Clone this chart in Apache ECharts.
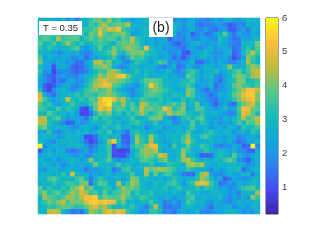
<!DOCTYPE html>
<html><head><meta charset="utf-8">
<script src="https://cdn.jsdelivr.net/npm/echarts@6/dist/echarts.min.js"></script>
<style>html,body{margin:0;padding:0;background:#fff}#c{width:321px;height:241px}</style>
</head><body><div id="c"></div>
<script>
// values, in tenths of a colour unit, top row first
const rows = [
[28,24,30,26,22,30,18,25,14,26,28,34,38,40,34,42,32,36,28,26,22,24,26,30,28,24,22,26,18,16,22,18,24,26,20,18,16,20,24,18,26,28,22,20,24,30,26,28],
[30,32,30,30,28,30,30,30,30,30,26,36,32,40,46,36,38,40,38,46,30,28,26,24,30,30,30,30,30,30,24,20,28,24,16,14,16,16,20,22,16,12,14,20,16,28,24,26],
[34,34,34,34,34,34,34,34,34,34,34,34,38,48,40,48,46,52,36,32,26,22,28,30,30,30,30,30,30,30,22,18,22,28,20,18,22,16,14,20,22,12,12,18,22,16,28,24],
[36,36,36,36,36,36,36,36,36,36,30,40,36,50,38,34,38,40,42,34,22,24,26,30,30,30,30,30,30,30,16,20,24,12,18,22,14,16,24,28,38,22,14,24,20,18,26,22],
[34,38,36,30,46,34,36,38,38,28,34,38,34,40,36,38,36,30,38,36,46,34,30,26,26,22,24,28,12,20,18,16,24,18,18,24,22,20,18,32,26,18,14,16,24,22,26,28],
[38,30,32,36,28,34,44,34,30,34,28,30,34,36,34,30,28,36,40,38,42,36,28,24,26,22,26,24,18,14,12,16,20,26,30,22,20,24,22,28,24,20,16,14,30,28,32,40],
[34,28,34,30,26,28,30,34,38,24,20,26,30,38,28,32,40,34,38,44,40,38,34,52,32,26,28,18,22,20,16,14,22,24,20,18,24,28,20,24,26,22,14,16,26,34,28,38],
[30,26,28,22,18,22,26,24,30,20,16,18,26,30,32,36,44,32,28,36,42,40,42,34,30,28,24,26,20,18,24,12,10,22,24,26,30,22,20,18,24,28,12,16,30,36,46,34],
[36,22,28,24,22,26,24,18,20,22,14,20,22,26,28,30,36,24,18,30,38,34,36,30,26,28,22,24,22,14,18,10,16,24,22,28,26,24,20,22,26,20,10,14,22,42,36,30],
[40,26,24,20,26,24,20,22,14,14,22,26,44,46,36,40,28,30,22,16,26,34,30,28,22,30,36,34,18,22,16,20,22,28,14,14,18,24,20,26,22,18,16,22,28,44,34,28],
[30,24,22,10,24,28,22,14,12,13,20,28,38,40,44,38,26,20,18,22,30,28,24,26,28,24,18,16,22,28,14,16,26,22,18,24,28,26,22,24,30,42,28,24,28,36,44,40],
[34,20,22,8,16,20,18,14,12,14,16,24,30,36,34,42,44,38,30,24,28,34,26,30,26,22,24,28,30,20,16,22,32,36,30,22,26,28,32,24,26,30,34,38,30,36,44,46],
[28,18,14,12,18,22,20,18,16,22,26,30,34,44,38,46,46,52,54,40,32,28,26,32,24,28,26,30,24,28,22,18,38,34,28,24,26,30,20,16,24,28,36,42,38,34,44,46],
[24,20,14,10,16,14,22,26,20,18,28,34,40,46,50,44,44,40,38,34,30,26,32,38,40,38,36,28,26,24,26,30,32,36,26,20,24,28,18,14,22,30,32,42,40,30,32,34],
[22,12,8,12,18,24,28,20,16,22,30,36,44,48,52,50,38,36,30,24,22,18,28,36,54,42,36,30,28,24,28,32,36,30,20,24,22,30,14,18,24,28,38,42,36,34,32,36],
[32,14,8,18,26,30,24,18,22,28,34,38,42,36,38,44,34,28,24,20,16,24,30,34,40,42,38,34,30,28,24,26,40,38,24,18,14,22,16,20,22,28,34,40,44,52,52,46],
[46,24,18,14,22,28,26,30,34,30,36,34,32,38,40,42,38,34,30,26,18,22,28,36,38,36,34,30,26,32,30,28,42,36,26,22,18,14,20,26,24,30,38,42,50,54,54,40],
[48,36,28,22,26,30,48,32,28,34,30,38,36,50,56,56,52,40,46,34,26,30,36,34,32,30,34,28,30,24,26,34,28,32,24,26,20,16,14,22,24,28,34,40,46,50,52,42],
[38,30,34,24,20,26,30,36,30,28,26,34,40,50,54,58,38,34,44,32,36,28,46,42,34,36,32,30,34,38,32,40,26,30,38,24,28,18,12,20,28,16,14,34,38,44,48,36],
[36,34,28,30,36,28,34,30,26,10,8,22,38,52,46,50,34,38,36,30,38,34,46,38,40,36,38,52,44,32,36,42,24,28,38,36,26,24,20,24,30,22,24,36,52,50,40,38],
[30,28,38,32,26,30,24,30,22,8,9,14,30,40,36,42,30,34,28,34,30,36,44,36,30,34,40,36,46,38,42,38,32,30,26,34,28,26,30,24,20,16,18,34,50,48,38,30],
[44,46,30,34,38,28,20,24,24,20,14,26,36,30,34,32,28,24,30,30,36,28,26,30,38,40,42,26,20,16,22,32,34,30,36,38,26,24,22,20,26,24,30,34,46,36,40,46],
[46,44,32,28,24,18,12,13,24,18,22,28,30,26,30,34,26,30,22,26,32,36,30,24,28,34,22,26,30,18,20,28,26,38,28,34,30,22,26,18,24,22,28,36,30,38,36,44],
[36,40,30,26,28,26,24,20,18,26,28,24,20,28,34,26,30,34,26,30,24,28,26,18,24,28,30,20,24,26,28,24,30,36,26,24,28,20,24,26,22,30,26,20,34,30,32,36],
[24,22,34,22,16,24,28,24,30,26,30,22,26,32,28,36,22,26,20,14,30,34,28,24,30,26,22,28,26,24,30,26,36,28,24,26,30,34,28,24,30,26,20,24,28,22,34,30],
[26,30,26,28,20,22,30,26,28,24,10,10,14,26,30,28,30,28,12,12,26,42,32,30,44,32,26,24,28,30,26,34,42,30,26,34,36,30,26,24,22,28,24,16,20,24,26,22],
[30,24,22,18,26,30,26,28,26,22,14,8,12,22,28,42,54,30,14,12,24,44,34,30,46,30,28,22,24,30,28,36,46,34,28,24,26,30,24,26,22,28,20,14,16,24,22,28],
[60,20,24,26,24,22,28,26,30,28,20,14,18,26,30,36,10,26,16,14,32,38,36,42,50,50,30,26,22,36,26,30,38,30,28,36,32,26,18,16,20,18,26,22,12,14,60,18],
[12,22,28,20,28,26,16,14,16,20,24,16,22,28,26,34,10,8,8,10,26,30,40,44,42,46,30,22,28,26,30,42,34,26,24,28,34,28,24,30,26,22,28,20,18,14,12,26],
[22,26,30,24,26,28,24,22,18,24,18,20,28,30,26,36,9,9,9,16,24,34,38,42,40,36,48,46,26,24,30,44,30,28,22,12,12,14,26,32,28,24,38,26,22,18,24,28],
[28,24,22,26,18,24,26,30,28,22,26,42,26,30,32,38,24,18,22,24,30,28,36,38,34,30,36,42,30,28,32,42,46,36,30,24,28,24,30,28,34,40,34,20,16,12,22,26],
[24,30,28,22,26,18,22,28,24,26,24,28,40,30,28,26,30,36,28,32,26,24,30,28,34,28,26,28,34,32,30,26,42,46,40,46,30,26,24,30,26,28,30,26,24,18,22,26],
[22,20,26,30,24,22,28,26,24,22,14,22,20,24,26,30,14,20,34,36,28,26,30,46,38,42,44,42,38,34,26,28,34,30,28,26,24,18,26,22,24,30,28,32,14,20,26,30],
[26,28,30,24,28,34,26,48,30,26,28,20,24,22,28,26,22,28,26,30,36,24,28,44,26,38,28,34,36,30,24,16,14,13,30,42,46,24,20,18,22,26,24,22,28,30,16,24],
[30,26,36,38,32,28,30,28,34,38,30,16,28,34,30,24,26,30,22,28,42,38,26,30,28,24,30,22,26,34,28,24,28,26,32,44,38,30,22,26,12,16,24,22,18,20,26,30],
[24,30,28,34,26,30,36,34,32,40,42,14,30,38,36,28,24,46,28,34,44,40,30,26,24,32,26,30,34,36,30,20,30,34,48,50,48,36,26,14,16,22,18,28,24,26,30,26],
[38,26,34,30,28,34,32,38,42,50,36,40,28,30,34,32,26,34,42,38,40,36,30,28,26,30,28,32,26,30,34,28,26,30,34,28,34,32,26,22,24,18,20,28,34,36,38,30],
[36,42,32,36,38,30,36,44,40,48,44,34,36,28,38,30,34,36,42,40,30,34,28,30,34,26,30,28,24,30,26,22,36,28,30,24,22,28,30,26,24,20,22,16,28,30,26,44],
[26,44,38,36,32,36,44,42,38,46,52,52,54,34,40,38,36,38,44,36,32,30,36,34,30,28,22,26,28,20,24,26,34,36,24,26,28,24,26,30,22,18,24,20,26,22,42,34],
[30,34,40,36,42,46,36,42,40,40,50,54,54,52,54,52,50,34,40,26,28,24,30,28,36,30,24,16,18,24,18,24,36,32,28,30,22,20,26,24,20,16,22,28,24,26,24,30],
[28,30,34,32,36,40,38,36,32,34,38,46,50,42,44,36,30,28,32,30,34,26,22,16,30,46,28,14,14,18,16,26,30,28,24,26,20,14,24,22,24,26,18,22,24,20,28,26],
[30,26,46,48,44,30,22,14,16,14,28,44,40,36,46,50,44,50,48,34,30,24,18,20,34,34,30,16,18,14,24,26,22,24,30,18,16,20,22,24,26,28,30,24,18,22,20,28]
];
const colorTicks = [1,2,3,4,5,6];
const valueMin = 0.2, valueMax = 6;
const parula = ['#3e26a8','#474af4','#2a84f0','#10a8dc','#12bdb8','#58c888','#bebc3c','#fdbe3c','#f9fb15'];

const cols = rows[0].length, nRows = rows.length;
const data = [];
rows.forEach((r,y)=>r.forEach((v,x)=>data.push([x, nRows-1-y, v/10])));
const range = n => Array.from({length:n},(_,i)=>i);
const font = '"Liberation Sans", Arial, sans-serif';
const chart = echarts.init(document.getElementById('c'), null, {renderer:'canvas'});
chart.setOption({
  animation:false,
  backgroundColor:'#fff',
  grid:[
    {left:38, top:18, width:222, height:196, show:false},
    {left:266, top:18, width:12, height:196, show:true, borderColor:'#404040', borderWidth:1, backgroundColor:'transparent'}
  ],
  xAxis:[
    {type:'category', data:range(cols), show:false, gridIndex:0},
    {type:'category', data:['c'], show:false, gridIndex:1}
  ],
  yAxis:[
    {type:'category', data:range(nRows), show:false, gridIndex:0},
    {type:'value', gridIndex:1, position:'right', min:valueMin, max:valueMax,
     axisLine:{show:false}, splitLine:{show:false},
     axisTick:{show:true, inside:true, length:2, customValues:colorTicks, lineStyle:{color:'#404040', width:1}},
     axisLabel:{show:true, margin:4, fontSize:9.5, color:'#404040', fontFamily:font, customValues:colorTicks}}
  ],
  visualMap:{show:false, seriesIndex:0, dimension:2, min:valueMin, max:valueMax, inRange:{color:parula}},
  series:[
    {type:'heatmap', xAxisIndex:0, yAxisIndex:0, data:data, progressive:0, itemStyle:{borderWidth:0}},
    {type:'bar', xAxisIndex:1, yAxisIndex:1, data:[valueMax], barWidth:'100%',
     itemStyle:{color:new echarts.graphic.LinearGradient(0,1,0,0,parula.map((c,i)=>({offset:i/(parula.length-1),color:c})))}}
  ],
  graphic:[
    {type:'rect', z:100, shape:{x:39,y:21,width:43,height:14}, style:{fill:'#fff'}},
    {type:'text', z:101, x:60.5, y:28, style:{text:'T = 0.35', font:'9.5px '+font, fill:'#262626', textAlign:'center', textVerticalAlign:'middle'}},
    {type:'rect', z:100, shape:{x:149,y:18,width:24,height:19}, style:{fill:'#fff'}},
    {type:'text', z:101, x:161,y:28, style:{text:'(b)', font:'14px '+font, fill:'#262626', textAlign:'center', textVerticalAlign:'middle'}}
  ]
});
</script>
</body></html>
